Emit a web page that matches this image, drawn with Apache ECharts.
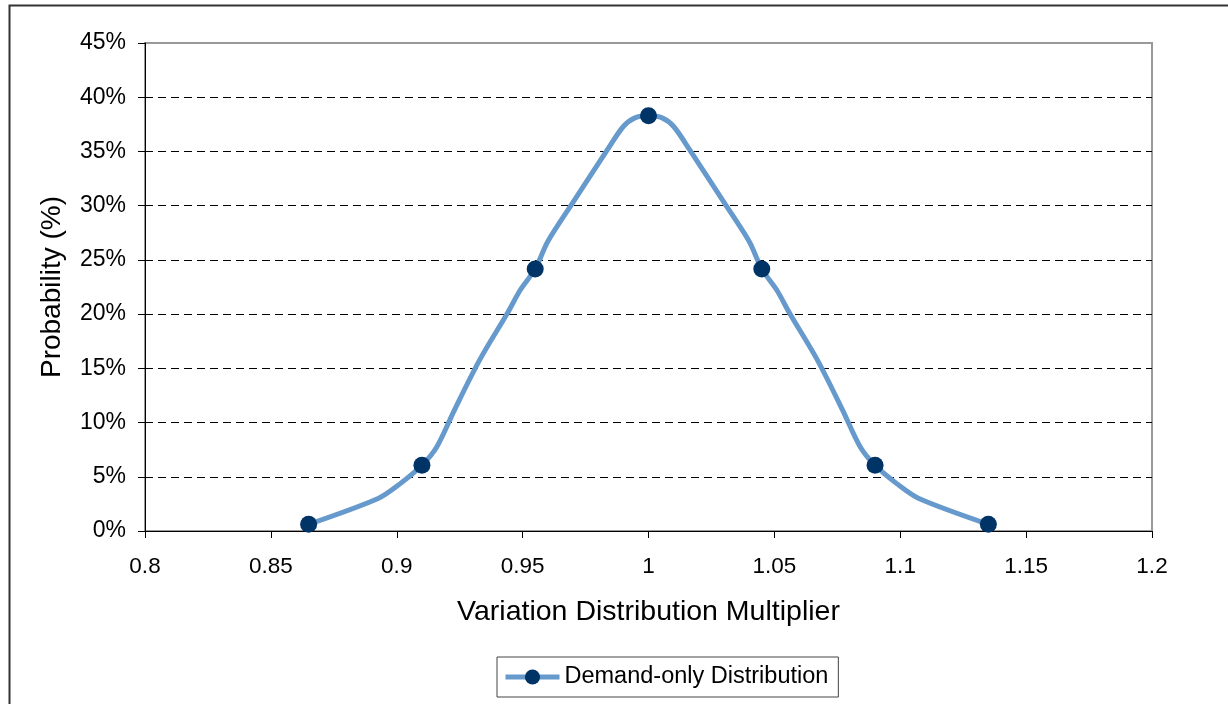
<!DOCTYPE html>
<html>
<head>
<meta charset="utf-8">
<script src="https://cdn.jsdelivr.net/npm/echarts@6/dist/echarts.min.js"></script>
<style>
html,body{margin:0;padding:0;background:#fff;}
#chart{width:1228px;height:704px;}
</style>
</head>
<body>
<div id="chart"></div>
<script>
// Dense curve points (x multiplier, probability %)
const curveX = [0.865, 0.8926, 0.901, 0.91, 0.916, 0.923, 0.933, 0.944, 0.949, 0.955, 0.960, 0.970, 0.9835, 0.990, 0.9946, 1.0,
                1.0054, 1.010, 1.0165, 1.030, 1.040, 1.045, 1.051, 1.056, 1.067, 1.077, 1.084, 1.09, 1.099, 1.1074, 1.135];
const curveY = [0.62, 3.0, 4.3, 6.06, 7.8, 11.2, 15.8, 20.1, 22.2, 24.17, 26.7, 30.3, 35.1, 37.3, 38.1, 38.29,
                38.1, 37.3, 35.1, 30.3, 26.7, 24.17, 22.2, 20.1, 15.8, 11.2, 7.8, 6.06, 4.3, 3.0, 0.62];
// Marked points of the distribution
const markerX = [0.865, 0.91, 0.955, 1.0, 1.045, 1.09, 1.135];
const seriesName = 'Demand-only Distribution';
const yTicks = [0, 5, 10, 15, 20, 25, 30, 35, 40, 45];

const data = curveX.map((x, i) => {
  const isMarker = markerX.indexOf(x) >= 0;
  const item = { value: [x, curveY[i]] };
  if (!isMarker) item.symbolSize = 0;
  return item;
});

const chart = echarts.init(document.getElementById('chart'));
const FONT = 'Liberation Sans, Arial, sans-serif';
chart.setOption({
  animation: false,
  backgroundColor: '#fff',
  graphic: [{
    type: 'rect', left: 7, top: 3, z: -10,
    shape: { width: 1300, height: 800 },
    style: { fill: 'none', stroke: '#333', lineWidth: 2 }
  }],
  grid: { left: 145, right: 76, top: 43, bottom: 173, show: true, borderColor: '#999', borderWidth: 2, backgroundColor: 'transparent' },
  xAxis: {
    type: 'value', min: 0.8, max: 1.2, interval: 0.05,
    name: 'Variation Distribution Multiplier', nameLocation: 'middle', nameGap: 67,
    nameTextStyle: { fontFamily: FONT, fontSize: 28.5, color: '#000' },
    axisLine: { show: true, lineStyle: { color: '#000', width: 1 } },
    axisTick: { show: true, length: 7, lineStyle: { color: '#000' } },
    axisLabel: { fontFamily: FONT, fontSize: 22.5, color: '#000', margin: 24,
      formatter: v => String(+v.toFixed(2)) },
    splitLine: { show: false }
  },
  yAxis: {
    type: 'value', min: 0, max: 45, interval: 5,
    name: 'Probability (%)', nameLocation: 'middle', nameGap: 79, nameRotate: 90,
    nameTextStyle: { fontFamily: FONT, fontSize: 28, color: '#000' },
    axisLine: { show: true, lineStyle: { color: '#000', width: 1 } },
    axisTick: { show: true, length: 7, lineStyle: { color: '#000' } },
    axisLabel: { fontFamily: FONT, fontSize: 23, color: '#000', margin: 19, formatter: '{value}%' },
    splitLine: { show: true, lineStyle: { color: yTicks.map((t, i) => i === yTicks.length - 1 ? 'rgba(0,0,0,0)' : '#000'), type: [8, 5], width: 1 } }
  },
  legend: {
    data: [seriesName],
    left: 497, top: 657, width: 341,
    padding: [8, 10, 8, 6],
    borderColor: '#444', borderWidth: 1,
    itemWidth: 54, itemHeight: 19, itemGap: 6,
    lineStyle: { width: 5 },
    textStyle: { fontFamily: FONT, fontSize: 23.5, color: '#000' }
  },
  series: [{
    name: seriesName,
    type: 'line',
    data: data,
    smooth: 0.3,
    symbol: 'circle',
    symbolSize: 17,
    showSymbol: true,
    itemStyle: { color: '#003366' },
    lineStyle: { color: '#6699cc', width: 5 },
    z: 3
  }]
});
</script>
</body>
</html>
